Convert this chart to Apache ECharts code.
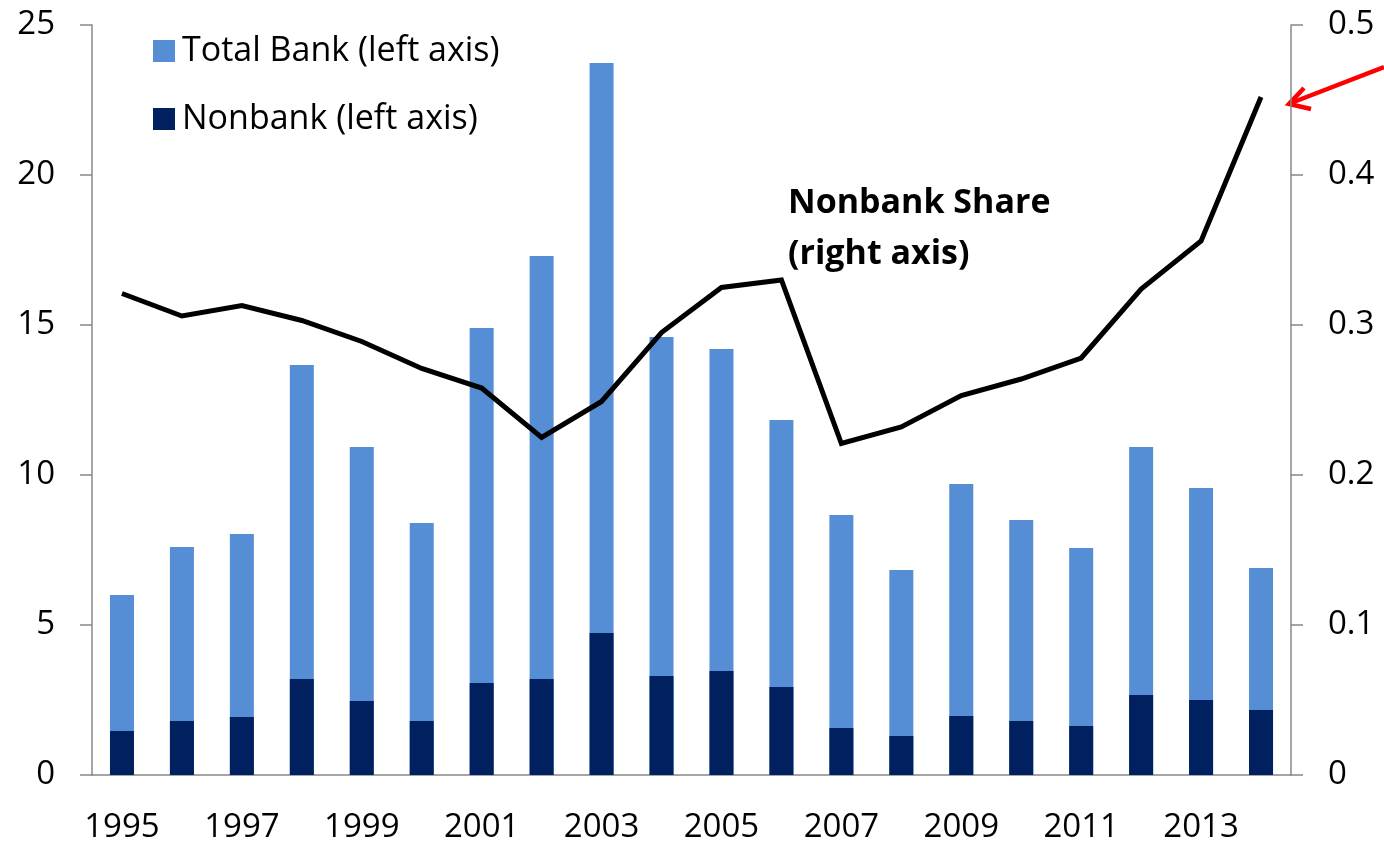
<!DOCTYPE html>
<html>
<head>
<meta charset="UTF-8">
<title>Bank and nonbank</title>
<style>
body { padding:0; border:0; margin:0; background:#fff; }
</style>
<script src="https://cdn.jsdelivr.net/npm/echarts@6/dist/echarts.min.js"></script>
</head>
<body>
<div id="main" style="width:1384px;height:844px;"></div>
<script>
// data
var years = ['1995','1996','1997','1998','1999','2000','2001','2002','2003','2004',
             '2005','2006','2007','2008','2009','2010','2011','2012','2013','2014'];
var totalBank = [6.0, 7.6, 8.03, 13.67, 10.93, 8.4, 14.9, 17.3, 23.73, 14.6,
                 14.2, 11.83, 8.67, 6.83, 9.7, 8.5, 7.57, 10.93, 9.57, 6.9];
var nonbank = [1.47, 1.8, 1.93, 3.2, 2.47, 1.8, 3.07, 3.2, 4.73, 3.3,
               3.47, 2.93, 1.57, 1.3, 1.97, 1.8, 1.63, 2.67, 2.5, 2.17];
var nonbankShare = [0.321, 0.306, 0.313, 0.303, 0.289, 0.271, 0.258, 0.225, 0.249, 0.295,
                    0.325, 0.33, 0.221, 0.232, 0.253, 0.264, 0.278, 0.324, 0.356, 0.452];

var font = '"Open Sans", "Noto Sans", sans-serif';
var myChart = echarts.init(document.getElementById('main'));

var greyLine = { color: '#888', width: 1.5 };

var option = {
    animation: false,
    textStyle: { fontFamily: font },
    grid: { left: 92, right: 93, top: 25, bottom: 69 },
    legend: {
        orient: 'vertical',
        left: 148, top: 29,
        icon: 'rect',
        itemWidth: 22, itemHeight: 22, itemGap: 34,
        textStyle: { fontSize: 34, lineHeight: 34, color: '#000', fontFamily: font, padding: [0, 0, 0, 2] },
        data: ['Total Bank (left axis)', 'Nonbank (left axis)']
    },
    xAxis: {
        type: 'category',
        data: years,
        axisLine: { lineStyle: greyLine },
        axisTick: { alignWithLabel: true, length: 10, lineStyle: greyLine },
        axisLabel: { interval: 1, fontSize: 33, color: '#000', margin: 36, fontFamily: font }
    },
    yAxis: [{
        type: 'value', min: 0, max: 25, interval: 5,
        splitLine: { show: false },
        axisLine: { show: true, lineStyle: greyLine },
        axisTick: { show: true, length: 12, lineStyle: greyLine },
        axisLabel: { fontSize: 33, color: '#000', margin: 37, fontFamily: font }
    }, {
        type: 'value', min: 0, max: 0.5, interval: 0.1,
        splitLine: { show: false },
        axisLine: { show: true, lineStyle: greyLine },
        axisTick: { show: true, length: 12, lineStyle: greyLine },
        axisLabel: { fontSize: 33, color: '#000', margin: 37, fontFamily: font,
            formatter: function (v) { return v === 0 ? '0' : String(+v.toFixed(1)); } }
    }],
    series: [{
        name: 'Total Bank (left axis)',
        type: 'bar',
        data: totalBank,
        barWidth: 24,
        barGap: '-100%',
        itemStyle: { color: '#558ED5' }
    }, {
        name: 'Nonbank (left axis)',
        type: 'bar',
        data: nonbank,
        barWidth: 24,
        z: 3,
        itemStyle: { color: '#002060' }
    }, {
        name: 'Nonbank Share (right axis)',
        type: 'line',
        yAxisIndex: 1,
        data: nonbankShare,
        symbol: 'none',
        z: 5,
        lineStyle: { color: '#000', width: 5, join: 'miter' }
    }],
    graphic: [{
        type: 'text',
        left: 788, top: 178,
        style: {
            text: 'Nonbank Share\n(right axis)',
            fontSize: 34, fontWeight: 'bold', fill: '#000',
            lineHeight: 51, fontFamily: font
        }
    }, {
        type: 'line',
        shape: { x1: 1384, y1: 67, x2: 1291, y2: 103 },
        style: { stroke: '#ff0000', lineWidth: 4.5 }
    }, {
        type: 'polyline',
        shape: { points: [[1304, 88], [1289, 104], [1311, 109]] },
        style: { stroke: '#ff0000', lineWidth: 4.5, fill: null, lineJoin: 'miter' }
    }]
};

myChart.setOption(option);
</script>
</body>
</html>
